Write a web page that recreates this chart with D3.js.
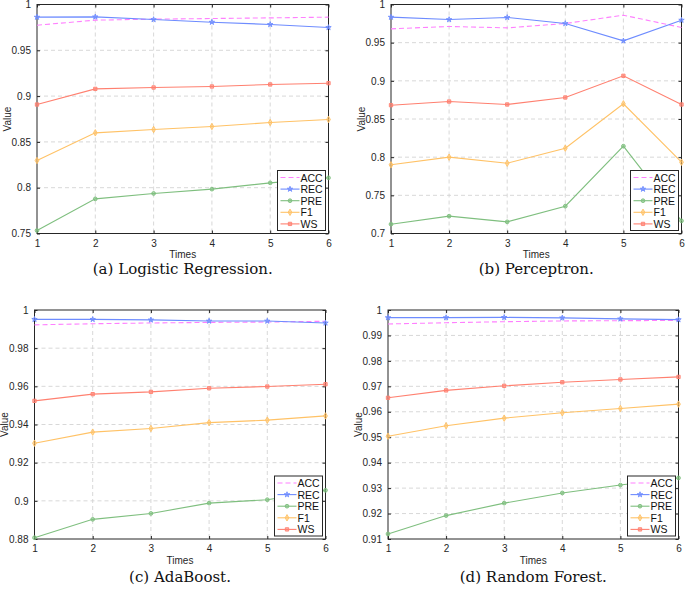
<!DOCTYPE html>
<html><head><meta charset="utf-8">
<script src="https://cdn.jsdelivr.net/npm/d3@7"></script>
<style>body{margin:0;background:#fff}svg{display:block}</style>
</head><body>
<svg id="chart" width="685" height="597"></svg>
<script>
// ---- data ----
const times = [1, 2, 3, 4, 5, 6];
const seriesNames = ["ACC", "REC", "PRE", "F1", "WS"];

const lrACC = [0.9774, 0.9829, 0.9840, 0.9847, 0.9854, 0.9862];
const lrREC = [0.9862, 0.9865, 0.9836, 0.9807, 0.9782, 0.9749];
const lrPRE = [0.7533, 0.7878, 0.7937, 0.7984, 0.8053, 0.8108];
const lrF1  = [0.8297, 0.8599, 0.8635, 0.8668, 0.8712, 0.8745];
const lrWS  = [0.8908, 0.9079, 0.9094, 0.9105, 0.9127, 0.9141];

const pcACC = [0.9681, 0.9712, 0.9694, 0.9751, 0.9860, 0.9699];
const pcREC = [0.9834, 0.9803, 0.9830, 0.9751, 0.9524, 0.9795];
const pcPRE = [0.7122, 0.7227, 0.7153, 0.7358, 0.8144, 0.7166];
const pcF1  = [0.7900, 0.8000, 0.7921, 0.8118, 0.8699, 0.7934];
const pcWS  = [0.8681, 0.8729, 0.8690, 0.8782, 0.9066, 0.8690];

const abACC = [0.9922, 0.9928, 0.9932, 0.9935, 0.9937, 0.9941];
const abREC = [0.9951, 0.9951, 0.9948, 0.9942, 0.9942, 0.9932];
const abPRE = [0.8807, 0.8903, 0.8934, 0.8988, 0.9006, 0.9055];
const abF1  = [0.9302, 0.9360, 0.9379, 0.9410, 0.9423, 0.9445];
const abWS  = [0.9524, 0.9559, 0.9571, 0.9590, 0.9599, 0.9611];

const rfACC = [0.9945, 0.9950, 0.9954, 0.9957, 0.9958, 0.9959];
const rfREC = [0.9970, 0.9970, 0.9971, 0.9969, 0.9965, 0.9962];
const rfPRE = [0.9120, 0.9192, 0.9241, 0.9281, 0.9312, 0.9340];
const rfF1  = [0.9504, 0.9545, 0.9575, 0.9596, 0.9613, 0.9630];
const rfWS  = [0.9655, 0.9684, 0.9702, 0.9716, 0.9727, 0.9737];

const yTicksLR = [0.75, 0.8, 0.85, 0.9, 0.95, 1];
const yTicksPC = [0.7, 0.75, 0.8, 0.85, 0.9, 0.95, 1];
const yTicksAB = [0.88, 0.9, 0.92, 0.94, 0.96, 0.98, 1];
const yTicksRF = [0.91, 0.92, 0.93, 0.94, 0.95, 0.96, 0.97, 0.98, 0.99, 1];

const captions = ["(a) Logistic Regression.", "(b) Perceptron.", "(c) AdaBoost.", "(d) Random Forest."];

// ---- styles ----
const styles = {
  ACC: {color: "#ff80ff", dash: "5,3", symbol: null},
  REC: {color: "#6e8cff", dash: null, symbol: d3.symbolStar, size: 9},
  PRE: {color: "#7fbf7f", dash: null, symbol: d3.symbolCircle, size: 11},
  F1:  {color: "#ffc266", dash: null, symbol: d3.symbolDiamond, size: 12},
  WS:  {color: "#ff8070", dash: null, symbol: d3.symbolSquare, size: 11}
};

const panels = [
  {cap: captions[0], series: {ACC: lrACC, REC: lrREC, PRE: lrPRE, F1: lrF1, WS: lrWS}, ticks: yTicksLR, box: [37, 4.5, 328.5, 233.5], capY: 269},
  {cap: captions[1], series: {ACC: pcACC, REC: pcREC, PRE: pcPRE, F1: pcF1, WS: pcWS}, ticks: yTicksPC, box: [391, 4.5, 681.5, 233.5], capY: 269},
  {cap: captions[2], series: {ACC: abACC, REC: abREC, PRE: abPRE, F1: abF1, WS: abWS}, ticks: yTicksAB, box: [34.5, 310, 325.5, 539], capY: 577},
  {cap: captions[3], series: {ACC: rfACC, REC: rfREC, PRE: rfPRE, F1: rfF1, WS: rfWS}, ticks: yTicksRF, box: [388, 310, 678.5, 539], capY: 577}
];

const svg = d3.select("#chart");
const axisColor = "#262626";
const sansFont = "'Liberation Sans', Arial, Helvetica, sans-serif";
const fmt = d3.format("~g");

panels.forEach(p => {
  const [L, T, R, B] = p.box;
  const x = d3.scaleLinear().domain([1, 6]).range([L, R]);
  const y = d3.scaleLinear().domain([p.ticks[0], p.ticks[p.ticks.length - 1]]).range([B, T]);
  const g = svg.append("g");

  // grid
  g.selectAll(".gx").data(times.slice(1, -1)).join("line")
    .attr("x1", d => x(d)).attr("x2", d => x(d)).attr("y1", T).attr("y2", B)
    .attr("stroke", "#d4d4d4").attr("stroke-width", 0.9).attr("stroke-dasharray", "4,3");
  g.selectAll(".gy").data(p.ticks.slice(1, -1)).join("line")
    .attr("y1", d => y(d)).attr("y2", d => y(d)).attr("x1", L).attr("x2", R)
    .attr("stroke", "#d4d4d4").attr("stroke-width", 0.9).attr("stroke-dasharray", "4,3");

  // axes (ticks inward, box on)
  const ax = d3.axisBottom(x).tickValues(times).tickSize(-3).tickPadding(6).tickFormat(fmt);
  const ay = d3.axisLeft(y).tickValues(p.ticks).tickSize(-3).tickPadding(6).tickFormat(fmt);
  const axT = d3.axisTop(x).tickValues(times).tickSize(-3).tickFormat("");
  const ayR = d3.axisRight(y).tickValues(p.ticks).tickSize(-3).tickFormat("");
  const styleAxis = sel => {
    sel.attr("font-family", null).attr("font-size", null);
    sel.select(".domain").remove();
    sel.selectAll("line").attr("stroke", axisColor);
    sel.selectAll("text").attr("fill", axisColor).style("font-family", sansFont).style("font-size", "10px");
  };
  g.append("g").attr("transform", `translate(0,${B})`).call(ax).call(styleAxis);
  g.append("g").attr("transform", `translate(${L},0)`).call(ay).call(styleAxis);
  g.append("g").attr("transform", `translate(0,${T})`).call(axT).call(styleAxis);
  g.append("g").attr("transform", `translate(${R},0)`).call(ayR).call(styleAxis);
  g.append("rect").attr("x", L).attr("y", T).attr("width", R - L).attr("height", B - T)
    .attr("fill", "none").attr("stroke", axisColor).attr("stroke-width", 1);

  // series
  const line = d3.line().x((d, i) => x(times[i])).y(d => y(d));
  seriesNames.forEach(name => {
    const st = styles[name];
    const vals = p.series[name];
    g.append("path").datum(vals).attr("d", line).attr("fill", "none")
      .attr("stroke", st.color).attr("stroke-width", 1.1)
      .attr("stroke-dasharray", st.dash);
    if (st.symbol) {
      g.selectAll(null).data(vals).join("path")
        .attr("transform", (d, i) => `translate(${x(times[i])},${y(d)})`)
        .attr("d", d3.symbol(st.symbol, st.size))
        .attr("fill", st.color).attr("fill-opacity", 0.6)
        .attr("stroke", st.color).attr("stroke-width", 0.9);
    }
  });

  // labels
  g.append("text").attr("x", (L + R) / 2).attr("y", B + 21).attr("text-anchor", "middle")
    .attr("dominant-baseline", "central")
    .attr("fill", axisColor).style("font-family", sansFont).style("font-size", "10px")
    .text("Times");
  g.append("text").attr("transform", `translate(${L - 30},${(T + B) / 2}) rotate(-90)`)
    .attr("text-anchor", "middle").attr("dominant-baseline", "central")
    .attr("fill", axisColor).style("font-family", sansFont).style("font-size", "10px")
    .text("Value");
  g.append("text").attr("x", (L + R) / 2).attr("y", p.capY).attr("text-anchor", "middle")
    .attr("dominant-baseline", "central")
    .attr("fill", "#111").style("font-family", "'DejaVu Serif', serif").style("font-size", "15px")
    .text(p.cap);

  // legend
  const lw = 48, lh = 60;
  const lx = R - 3 - lw, ly = B - 3 - lh;
  const lg = g.append("g");
  lg.append("rect").attr("x", lx).attr("y", ly).attr("width", lw).attr("height", lh)
    .attr("fill", "#fff").attr("stroke", axisColor).attr("stroke-width", 1);
  seriesNames.forEach((name, i) => {
    const st = styles[name];
    const yy = ly + 7 + i * 11.6;
    lg.append("line").attr("x1", lx + 3).attr("x2", lx + 22).attr("y1", yy).attr("y2", yy)
      .attr("stroke", st.color).attr("stroke-width", 1.1).attr("stroke-dasharray", st.dash);
    if (st.symbol) {
      lg.append("path").attr("transform", `translate(${lx + 12.5},${yy})`)
        .attr("d", d3.symbol(st.symbol, st.size))
        .attr("fill", st.color).attr("fill-opacity", 0.6)
        .attr("stroke", st.color).attr("stroke-width", 0.9);
    }
    lg.append("text").attr("x", lx + 23).attr("y", yy).attr("dominant-baseline", "central")
      .attr("fill", "#111").style("font-family", sansFont).style("font-size", "10.5px")
      .text(name);
  });
});
</script>
</body></html>
